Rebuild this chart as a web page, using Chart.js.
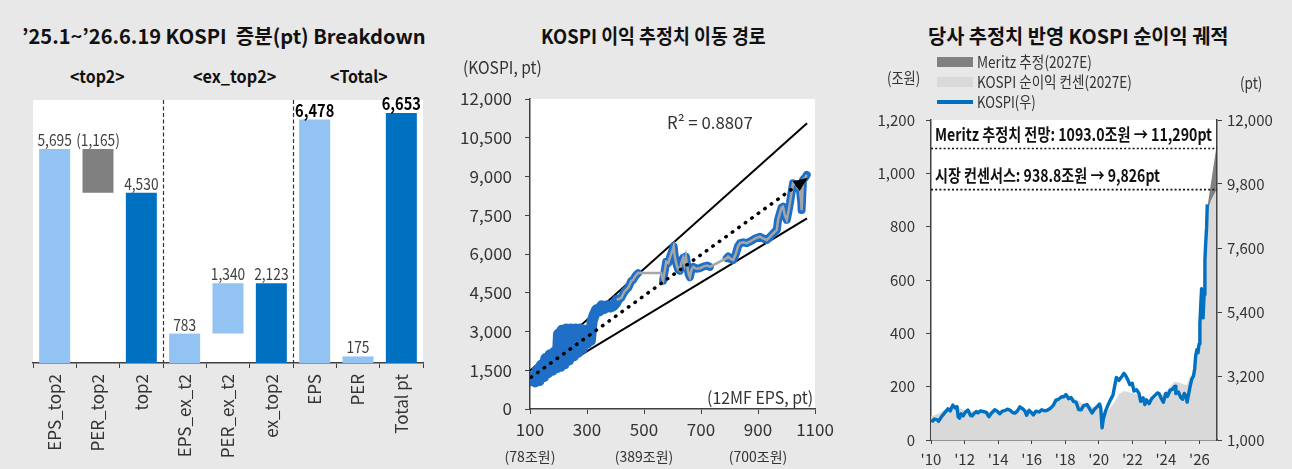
<!DOCTYPE html>
<html><head><meta charset="utf-8">
<script src="https://cdn.jsdelivr.net/npm/chart.js@4.4.1/dist/chart.umd.min.js"></script>
<style>
html,body{margin:0;padding:0;}
body{background:#e8e8e8;width:1292px;height:469px;overflow:hidden;position:relative;font-family:'Noto Sans CJK KR','Noto Sans',sans-serif;color:#222;}
.t{position:absolute;white-space:pre;line-height:1;transform-origin:left top;}
canvas{position:absolute;}
.sw{position:absolute;}
</style></head><body>
<canvas id="c1" width="440" height="379" style="left:0;top:90px"></canvas>
<canvas id="c2" width="430" height="419" style="left:440px;top:50px"></canvas>
<canvas id="c3" width="422" height="369" style="left:870px;top:100px"></canvas>
<div class="sw" style="left:937px;top:57px;width:36px;height:10px;background:#808080"></div>
<div class="sw" style="left:937px;top:77px;width:36px;height:10px;background:#d9d9d9"></div>
<div class="sw" style="left:937px;top:100px;width:36px;height:3.5px;background:#0070c0"></div>
<script>
// ---------- Panel 1 data ----------
const barCats = ['EPS_top2','PER_top2','top2','EPS_ex_t2','PER_ex_t2','ex_top2','EPS','PER','Total pt'];
const barLow  = [0, 4530, 0, 0, 783, 0, 0, 0, 0];
const barHigh = [5695, 5695, 4530, 783, 2123, 2123, 6478, 175, 6653];
const barLabels = ['5,695','(1,165)','4,530','783','1,340','2,123','6,478','175','6,653'];
const groupNames = ['<top2>','<ex_top2>','<Total>'];

// ---------- Panel 2 data ----------
const trendUpEps = [100, 1072];
const trendUpKospi = [1480, 11060];
const trendLoEps = [100, 1072];
const trendLoKospi = [900, 7380];
const arrowEps = [104, 1068];
const arrowKospi = [1230, 8900];
// dense historical cloud (2010~2025 mid)
const histEps = [105,110,118,125,132,140,148,155,162,170,178,186,194,200,206,212,220,228,236,244,252,260,268,276,284,292,300,306,312,318,324,334,344,352,362,372,382,392,400,406];
const histKospi = [1100,1250,1050,1500,1100,1700,1250,1950,1400,2100,1500,2200,1600,2900,1650,3050,1750,3100,1900,3100,2050,3100,2200,3100,2350,3050,2550,3050,2650,3400,3600,3850,3800,4000,3900,4000,3950,4000,4100,4220];
// recent path (blue markers)
const pathEps = [404,420,432,445,455,462,470,479,520,567,572,578,585,592,600,604,608,614,620,626,632,637,642,647,652,657,661,667,673,683,696,710,722,731,760,790,795,805,813,822,830,837,848,860,875,890,907,918,931,945,958,966,970,977,983,988,994,1001,1006,1012,1018,1023,1030,1040,1047,1052,1053,1055,1058,1065,1071];
const pathKospi = [4220,4300,4550,4700,4950,5000,5150,5260,null,4970,5300,5700,5650,5900,6150,6300,5900,5600,5400,5350,5700,5850,5600,5900,5500,5200,5100,5400,5500,5430,5450,5520,5550,5500,null,5840,5900,5800,5770,6000,6300,6420,6450,6420,6500,6600,6670,6600,6540,6700,6850,6930,7300,7580,7800,7830,7500,7320,7600,7970,8400,8740,8700,8550,8480,8000,7700,8200,8870,8950,9060];
// recent path (grey connecting line)
const recentEps = [404,420,432,445,455,462,470,479,560,567,572,578,585,592,600,604,608,614,620,626,632,637,642,647,652,657,661,667,673,683,696,710,722,731,790,795,805,813,822,830,837,848,860,875,890,907,918,931,945,958,966,970,977,983,988,994,1001,1006,1012,1018,1023,1030,1040,1047,1052,1053,1055,1058,1065,1071];
const recentKospi = [4220,4300,4550,4700,4950,5000,5150,5260,5260,4970,5300,5700,5650,5900,6150,6300,5900,5600,5400,5350,5700,5850,5600,5900,5500,5200,5100,5400,5500,5430,5450,5520,5550,5500,5840,5900,5800,5770,6000,6300,6420,6450,6420,6500,6600,6670,6600,6540,6700,6850,6930,7300,7580,7800,7830,7500,7320,7600,7970,8400,8740,8700,8550,8480,8000,7700,8200,8870,8950,9060];
const subLabelEps = [100, 500, 900];
const subLabelText = ['(78조원)', '(389조원)', '(700조원)'];

// ---------- Panel 3 data ----------
const kospiDates = [2010.00,2010.10,2010.20,2010.35,2010.45,2010.60,2010.75,2010.90,2011.00,2011.15,2011.30,2011.45,2011.55,2011.62,2011.70,2011.80,2011.92,2012.05,2012.20,2012.35,2012.45,2012.55,2012.70,2012.80,2012.95,2013.10,2013.30,2013.45,2013.60,2013.80,2013.95,2014.10,2014.25,2014.40,2014.55,2014.70,2014.85,2015.00,2015.15,2015.30,2015.45,2015.60,2015.70,2015.85,2016.00,2016.10,2016.25,2016.45,2016.60,2016.80,2016.95,2017.10,2017.30,2017.45,2017.60,2017.80,2017.90,2018.05,2018.20,2018.35,2018.50,2018.65,2018.80,2018.95,2019.10,2019.30,2019.45,2019.60,2019.75,2019.90,2020.05,2020.12,2020.20,2020.28,2020.40,2020.55,2020.70,2020.85,2020.95,2021.05,2021.20,2021.40,2021.50,2021.60,2021.75,2021.85,2022.00,2022.10,2022.25,2022.40,2022.50,2022.65,2022.75,2022.85,2023.00,2023.15,2023.30,2023.50,2023.60,2023.75,2023.85,2024.00,2024.10,2024.25,2024.40,2024.55,2024.60,2024.75,2024.90,2025.00,2025.10,2025.20,2025.27,2025.35,2025.45,2025.55,2025.65,2025.72,2025.78,2025.85,2025.92,2025.98,2026.03,2026.08,2026.13,2026.18,2026.22,2026.28,2026.33,2026.38,2026.43,2026.47];
const kospiPts = [1690,1650,1720,1700,1640,1780,1890,1990,2070,2000,2200,2100,2150,1800,1750,1900,1830,1960,2030,1850,1830,1900,1980,1930,2000,1980,1950,1800,1920,2040,1990,1900,1990,2010,2060,2030,1950,1920,2000,2140,2080,2000,1850,2020,1930,1860,1990,1960,2040,2000,2030,2080,2200,2370,2400,2490,2480,2560,2420,2460,2320,2300,2050,2040,2180,2220,2080,1930,2060,2140,2240,2100,1420,1750,1980,2200,2380,2550,2850,3150,3050,3200,3290,3220,3050,2900,2950,2680,2730,2600,2330,2450,2220,2380,2250,2420,2500,2620,2590,2400,2300,2600,2500,2700,2750,2850,2600,2650,2450,2400,2600,2500,2300,2550,2850,3100,3200,3450,3900,4100,4000,4300,5000,5600,6200,5600,5200,6000,7200,7800,8300,9100];
const consDates = [2010.0,2010.5,2011.0,2011.3,2011.7,2012.0,2012.5,2013.0,2013.5,2014.0,2014.5,2015.0,2015.4,2015.8,2016.2,2016.7,2017.0,2017.5,2018.0,2018.5,2019.0,2019.6,2020.0,2020.2,2020.5,2020.9,2021.2,2021.5,2022.0,2022.5,2022.8,2023.0,2023.5,2024.0,2024.5,2024.8,2025.0,2025.25,2025.4,2025.6,2025.8,2026.0,2026.15,2026.3,2026.47,2026.7,2027.0];
const consVals = [88,100,122,132,120,112,108,110,105,108,112,110,124,112,106,112,120,150,175,158,138,125,120,102,106,138,172,184,176,166,150,145,160,182,218,215,210,206,232,250,300,400,520,680,860,900,937];
const meritzDates = [2026.47, 2027.0];
const meritzVals = [870, 1093];
const refLevels = [1093.0, 938.8];
const refLabels = ['Meritz 추정치 전망: 1093.0조원 → 11,290pt', '시장 컨센서스: 938.8조원 → 9,826pt'];

// ---------- HTML texts ----------
const texts = [
 {t:'’25.1~’26.6.19 KOSPI  증분(pt) Breakdown', x:22, cy:37, w:404, fs:20, b:1},
 {t:groupNames[0], x:70, cy:76, w:55, fs:17, b:1},
 {t:groupNames[1], x:193, cy:76, w:83, fs:17, b:1},
 {t:groupNames[2], x:330, cy:76, w:58, fs:17, b:1},
 {t:'KOSPI 이익 추정치 이동 경로', x:541, cy:37, w:225, fs:20, b:1},
 {t:'(KOSPI, pt)', x:463, cy:67, w:79, fs:17, b:0},
 {t:'R² = 0.8807', x:667, cy:122, w:86, fs:17, b:0},
 {t:'(12MF EPS, pt)', x:707, cy:397, w:106, fs:17, b:0},
 {t:'당사 추정치 반영 KOSPI 순이익 궤적', x:928, cy:37, w:300, fs:20, b:1},
 {t:'Meritz 추정(2027E)', x:977, cy:62, w:115, fs:16, b:0},
 {t:'KOSPI 순이익 컨센(2027E)', x:977, cy:82, w:155, fs:16, b:0},
 {t:'KOSPI(우)', x:977, cy:102, w:59, fs:16, b:0},
 {t:'(조원)', x:887, cy:78, w:33, fs:16, b:0},
 {t:'(pt)', x:1240, cy:83, w:22, fs:16, b:0},
 {t:refLabels[0], x:935, cy:134.5, w:277, fs:17, b:1},
 {t:refLabels[1], x:935, cy:175, w:225, fs:17, b:1}
];
texts.forEach(o=>{
  const el=document.createElement('div');
  el.className='t'; el.textContent=o.t;
  el.style.fontSize=o.fs+'px'; el.style.fontWeight=o.b?'700':'400';
  el.style.color=o.b?'#111':'#333';
  document.body.appendChild(el);
  const nat=el.offsetWidth;
  el.style.left=o.x+'px'; el.style.top=(o.cy-0.55*o.fs)+'px';
  el.style.transform='scaleX('+(o.w/nat)+')';
});

// ---------- Charts ----------
const FONT = "'Noto Sans CJK KR','Noto Sans',sans-serif";
Chart.defaults.font.family = FONT;
Chart.defaults.color = '#333';
const AX = '#404040';
const whiteBg = {id:'whiteBg', beforeDraw(c){const a=c.chartArea;c.ctx.save();c.ctx.fillStyle='#fff';c.ctx.fillRect(a.left,a.top,a.right-a.left,a.bottom-a.top);c.ctx.restore();}};

// Panel 1
const barColors = ['#92c3f2','#808080','#0070c0','#92c3f2','#92c3f2','#0070c0','#92c3f2','#92c3f2','#0070c0'];
const boldLabel = [false,false,false,false,false,false,true,false,true];
const barPlugin = {id:'barPlugin', afterDatasetsDraw(c){
  const ctx=c.ctx, a=c.chartArea, xs=c.scales.x;
  ctx.save();
  ctx.strokeStyle='#333'; ctx.lineWidth=1.2; ctx.setLineDash([4,2.5]);
  [3,6].forEach(k=>{const px=Math.round((xs.getPixelForValue(k-1)+xs.getPixelForValue(k))/2)+0.5;
    ctx.beginPath();ctx.moveTo(px,a.top);ctx.lineTo(px,a.bottom);ctx.stroke();});
  ctx.setLineDash([]);
  const meta=c.getDatasetMeta(0);
  ctx.textAlign='center'; ctx.textBaseline='alphabetic';
  meta.data.forEach((bar,i)=>{
    const top=Math.min(bar.y,bar.base);
    ctx.font=(boldLabel[i]?'bold 17px ':'16px ')+FONT;
    ctx.fillStyle=boldLabel[i]?'#000':'#404040';
    ctx.save(); ctx.translate(bar.x, top-3); ctx.scale(0.86,1);
    ctx.fillText(barLabels[i], 0, 0); ctx.restore();
  });
  ctx.restore();
}};
new Chart(document.getElementById('c1'), {
  type:'bar',
  data:{labels:barCats, datasets:[{data:barCats.map((c,i)=>[barLow[i],barHigh[i]]), backgroundColor:barColors, barPercentage:0.715, categoryPercentage:1, borderWidth:0}]},
  options:{responsive:false, animation:false, devicePixelRatio:1,
    layout:{padding:{left:33,right:17,top:10,bottom:0}},
    plugins:{legend:{display:false},tooltip:{enabled:false}},
    scales:{
      x:{grid:{offset:true,drawOnChartArea:false,drawTicks:true,tickLength:5,color:AX},border:{color:AX,width:1.5},
         ticks:{minRotation:90,maxRotation:90,autoSkip:false,padding:6,font:{size:17},color:'#333'},
         afterFit(s){s.height=106;}},
      y:{display:false,min:0,max:7000}
    }},
  plugins:[whiteBg, barPlugin]
});

// Panel 2
const toPts=(xa,ya)=>xa.map((x,i)=>({x:x,y:ya[i]}));
const p2Plugin = {id:'p2', afterDatasetsDraw(c){
  const ctx=c.ctx, xs=c.scales.x, a=c.chartArea;
  const m=c.getDatasetMeta(5); const p0=m.data[0], p1=m.data[m.data.length-1];
  const ang=Math.atan2(p1.y-p0.y,p1.x-p0.x);
  ctx.save(); ctx.translate(p1.x,p1.y); ctx.rotate(ang);
  ctx.beginPath(); ctx.moveTo(2,0); ctx.lineTo(-12,-6); ctx.lineTo(-12,6); ctx.closePath();
  ctx.fillStyle='#000'; ctx.fill(); ctx.restore();
  ctx.save(); ctx.font='14px '+FONT; ctx.fillStyle='#333'; ctx.textAlign='center'; ctx.textBaseline='middle';
  subLabelEps.forEach((v,i)=>ctx.fillText(subLabelText[i], xs.getPixelForValue(v), a.bottom+48));
  ctx.restore();
}};
new Chart(document.getElementById('c2'), {
  type:'line',
  data:{datasets:[
    {data:toPts(recentEps,recentKospi), borderColor:'#a6a6a6', borderWidth:2.5, pointRadius:0, tension:0},
    {data:toPts(pathEps,pathKospi), borderColor:'#1f6fc6', borderWidth:8, pointRadius:0, tension:0, borderJoinStyle:'round', borderCapStyle:'round', spanGaps:false},
    {data:toPts(histEps,histKospi), borderColor:'#1f6fc6', borderWidth:11, pointRadius:0, tension:0, borderJoinStyle:'round', borderCapStyle:'round'},
    {data:toPts(trendUpEps,trendUpKospi), borderColor:'#000', borderWidth:2, pointRadius:0},
    {data:toPts(trendLoEps,trendLoKospi), borderColor:'#000', borderWidth:2, pointRadius:0},
    {data:toPts(arrowEps,arrowKospi), borderColor:'#000', borderWidth:3.5, pointRadius:0, borderDash:[0.5,7.5], borderCapStyle:'round', order:-1}
  ]},
  options:{responsive:false, animation:false, devicePixelRatio:1,
    layout:{padding:{left:0,right:55,top:49,bottom:0}},
    plugins:{legend:{display:false},tooltip:{enabled:false}},
    scales:{
      x:{type:'linear',min:100,max:1100,
         grid:{drawOnChartArea:false,drawTicks:true,tickLength:5,color:AX},border:{color:AX,width:1.5},
         ticks:{stepSize:200,font:{size:17},color:'#333',padding:5,maxRotation:0,callback:v=>String(v)},
         afterFit(s){s.height=60;}},
      y:{min:0,max:12000,
         grid:{drawOnChartArea:false,drawTicks:true,tickLength:5,color:AX},border:{color:AX,width:1.5},
         ticks:{stepSize:1500,font:{size:17},color:'#333',padding:13,callback:v=>v.toLocaleString('en-US')},
         afterFit(s){s.width=90;}}
    }},
  plugins:[whiteBg, p2Plugin]
});

// Panel 3
const xMin=2010, xMax=2027.05;
new Chart(document.getElementById('c3'), {
  type:'line',
  data:{datasets:[
    {data:toPts(kospiDates,kospiPts), yAxisID:'yR', borderColor:'#0070c0', borderWidth:3.4, pointRadius:0, tension:0, borderJoinStyle:'round'},
    {data:toPts(consDates,consVals), yAxisID:'yL', borderWidth:0, borderColor:'rgba(0,0,0,0)', backgroundColor:'#d9d9d9', fill:'origin', pointRadius:0, tension:0},
    {data:toPts(meritzDates,meritzVals), yAxisID:'yL', borderWidth:0, borderColor:'rgba(0,0,0,0)', backgroundColor:'#808080', fill:'origin', pointRadius:0, tension:0},
    {data:[{x:xMin,y:refLevels[0]},{x:xMax,y:refLevels[0]}], yAxisID:'yL', borderColor:'#111', borderWidth:1.6, borderDash:[2,2.2], pointRadius:0, order:-1},
    {data:[{x:xMin,y:refLevels[1]},{x:xMax,y:refLevels[1]}], yAxisID:'yL', borderColor:'#111', borderWidth:1.6, borderDash:[2,2.2], pointRadius:0, order:-1}
  ]},
  options:{responsive:false, animation:false, devicePixelRatio:1,
    layout:{padding:{left:0,right:0,top:19,bottom:0}},
    plugins:{legend:{display:false},tooltip:{enabled:false}},
    scales:{
      x:{type:'linear',min:xMin,max:xMax,
         grid:{drawOnChartArea:false,drawTicks:true,tickLength:4,color:AX},border:{color:AX,width:1.5},
         ticks:{stepSize:2,includeBounds:false,autoSkip:false,maxRotation:0,padding:6,font:{size:15},color:'#333',callback:v=>"'"+String(v).slice(2)},
         afterFit(s){s.height=29;}},
      yL:{position:'left',min:0,max:1200,
         grid:{drawOnChartArea:false,drawTicks:true,tickLength:5,color:AX},border:{color:AX,width:1.5},
         ticks:{stepSize:200,padding:11,font:{size:15},color:'#333',callback:v=>v.toLocaleString('en-US')},
         afterFit(s){s.width=61;}},
      yR:{position:'right',min:1000,max:12000,
         grid:{drawOnChartArea:false,drawTicks:true,tickLength:5,color:AX},border:{color:AX,width:1.5},
         ticks:{stepSize:2200,padding:5,font:{size:15},color:'#333',callback:v=>v.toLocaleString('en-US')},
         afterFit(s){s.width=75;}}
    }},
  plugins:[whiteBg]
});
</script>
</body></html>
